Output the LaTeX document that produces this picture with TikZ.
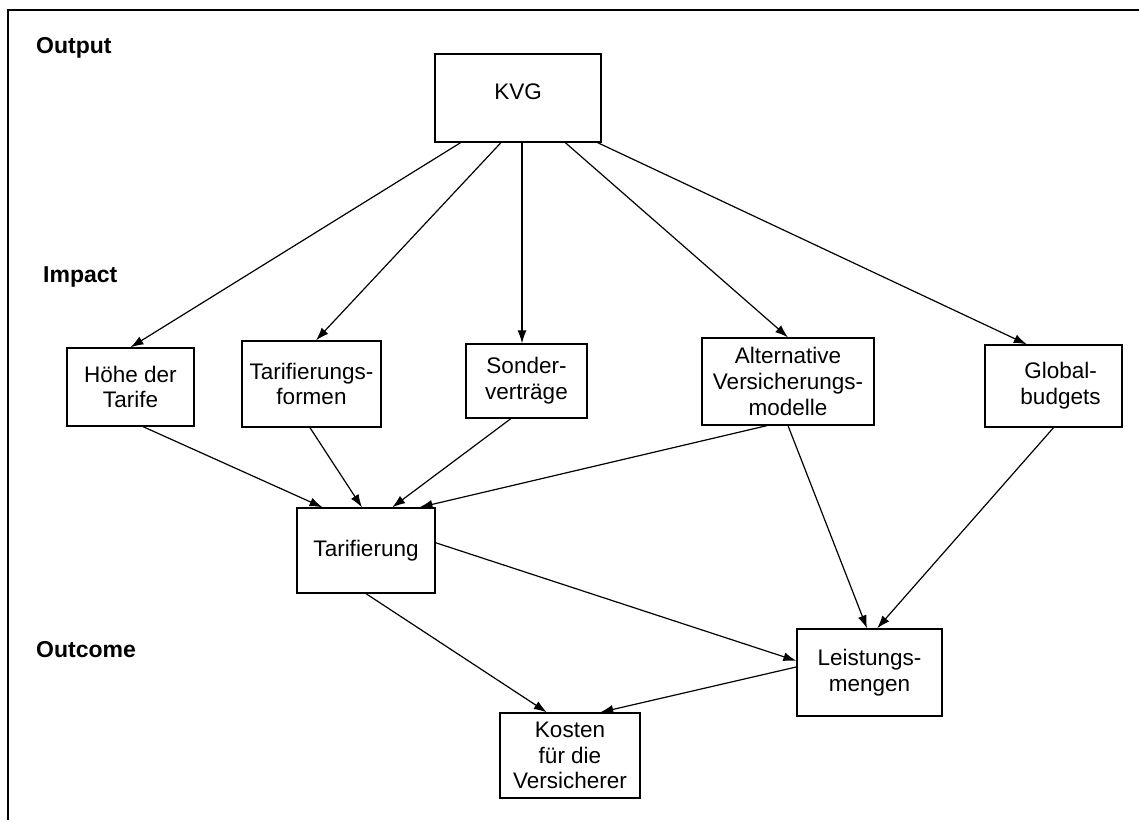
\documentclass[tikz,border=0pt]{standalone}
\usepackage{fontspec}
\setmainfont{Liberation Sans}
\usetikzlibrary{calc,arrows.meta}
\newcommand\diagfont{\fontsize{22.5}{25.7}\selectfont}
\newcommand\levelfont{\fontsize{23}{26}\selectfont\bfseries}
\begin{document}
\begin{tikzpicture}[x=1pt,y=-1pt,
  box/.style={draw, line width=1.3pt, inner sep=0pt, align=center, font=\diagfont},
  arr/.style={-{Latex[length=13pt,width=9pt]}, line width=1.2pt},
  level/.style={anchor=base west, inner sep=0pt, font=\levelfont}]
\useasboundingbox (0,0) rectangle (1139,820);

% frame (top and left edges)
\draw[line width=1.5pt] (8,820) -- (8,10) -- (1139,10);

% level labels
\node[level] (lout) at (36,53) {Output};
\node[level] (limp) at (43,282) {Impact};
\node[level] (loc)  at (36,657) {Outcome};

% boxes
\node[box, minimum width=166pt, minimum height=88pt, text depth=12pt] (kvg) at (518,98) {KVG};
\node[box, minimum width=127pt, minimum height=78pt] (hoehe) at (130.5,387) {Höhe der\\Tarife};
\node[box, minimum width=139pt, minimum height=86pt] (tfor) at (311.5,384) {Tarifierungs-\\formen};
\node[box, minimum width=121pt, minimum height=74pt] (sonder) at (526.5,381) {Sonder-\\verträge};
\node[box, minimum width=172pt, minimum height=87pt] (alt) at (788,381.5) {Alternative\\Versicherungs-\\modelle};
\node[box, minimum width=137pt, minimum height=82pt] (glob) at (1053.5,386) {\hspace*{14pt}Global-\\\hspace*{14pt}budgets};
\node[box, minimum width=138pt, minimum height=85pt] (tarif) at (366,550.5) {Tarifierung};
\node[box, minimum width=145pt, minimum height=87pt] (leist) at (869.5,672.5) {Leistungs-\\mengen};
\node[box, minimum width=140pt, minimum height=85pt] (kost) at (570,755.5) {Kosten\\für die\\Versicherer};

% KVG to the impact boxes
\draw[arr] ($(kvg.south west)!0.157!(kvg.south east)$) -- (hoehe.north);
\draw[arr] ($(kvg.south west)!0.398!(kvg.south east)$) -- ($(tfor.north west)!0.532!(tfor.north east)$);
\coordinate (kv3) at ($(kvg.south west)!0.524!(kvg.south east)$);
\draw[arr] (kv3) -- (kv3 |- sonder.north);
\draw[arr] ($(kvg.south west)!0.783!(kvg.south east)$) -- (alt.north);
\draw[arr] ($(kvg.south west)!0.976!(kvg.south east)$) -- ($(glob.north west)!0.307!(glob.north east)$);

% impact boxes to Tarifierung
\draw[arr] ($(hoehe.south west)!0.598!(hoehe.south east)$) -- ($(tarif.north west)!0.188!(tarif.north east)$);
\draw[arr] ($(tfor.south west)!0.489!(tfor.south east)$) -- ($(tarif.north west)!0.471!(tarif.north east)$);
\draw[arr] ($(sonder.south west)!0.372!(sonder.south east)$) -- ($(tarif.north west)!0.688!(tarif.north east)$);
\draw[arr] ($(alt.south west)!0.378!(alt.south east)$) -- ($(tarif.north west)!0.884!(tarif.north east)$);

% into Leistungsmengen
\draw[arr] (alt.south) -- ($(leist.north west)!0.483!(leist.north east)$);
\draw[arr] (glob.south) -- ($(leist.north west)!0.552!(leist.north east)$);
\draw[arr] ($(tarif.north east)!0.41!(tarif.south east)$) -- ($(leist.north west)!0.368!(leist.south west)$);

% into Kosten
\draw[arr] (tarif.south) -- ($(kost.north west)!0.336!(kost.north east)$);
\draw[arr] ($(leist.north west)!0.437!(leist.south west)$) -- ($(kost.north west)!0.714!(kost.north east)$);
\end{tikzpicture}
\end{document}
